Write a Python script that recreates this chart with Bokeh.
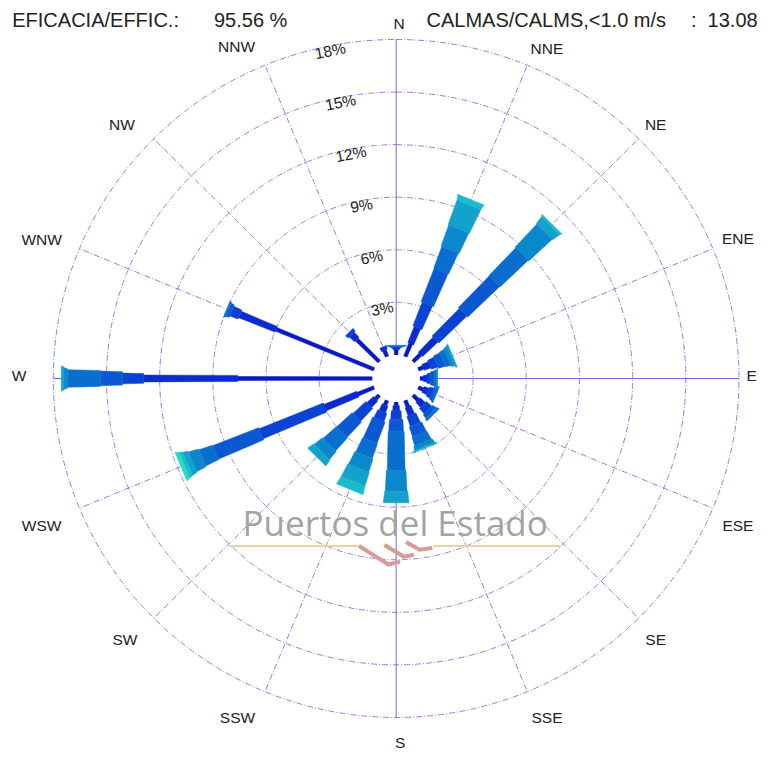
import numpy as np
from bokeh.plotting import figure
from bokeh.models import Range1d, ColumnDataSource
from bokeh.embed import file_html
from bokeh.resources import INLINE
from bokeh.core.properties import value

# ---------------- data ----------------
directions = ["N", "NNE", "NE", "ENE", "E", "ESE", "SE", "SSE",
              "S", "SSW", "SW", "WSW", "W", "WNW", "NW", "NNW"]
# frequency (%) of each speed class per direction (innermost class first)
cls1 = [0.30, 0.80, 0.60, 0.30, 0.20, 0.30, 0.40, 0.40, 0.20, 0.30, 0.30, 1.00, 7.60, 6.00, 1.80, 0.40]
cls2 = [0.10, 1.00, 1.20, 0.40, 0.20, 0.30, 0.40, 0.50, 0.30, 0.40, 0.50, 2.00, 5.30, 2.20, 0.40, 0.20]
cls3 = [0.05, 1.45, 2.20, 0.40, 0.20, 0.25, 0.40, 0.60, 0.50, 0.50, 1.00, 3.90, 1.20, 0.50, 0.20, 0.00]
cls4 = [0.03, 2.05, 2.50, 0.40, 0.20, 0.15, 0.25, 0.60, 0.70, 1.30, 1.20, 2.80, 1.25, 0.20, 0.00, 0.00]
cls5 = [0.03, 1.30, 2.20, 0.30, 0.15, 0.10, 0.15, 0.50, 2.20, 0.90, 1.00, 0.80, 1.85, 0.10, 0.00, 0.00]
cls6 = [0.04, 1.30, 1.80, 0.20, 0.05, 0.00, 0.00, 0.25, 1.20, 0.80, 0.60, 0.60, 0.20, 0.00, 0.00, 0.00]
cls7 = [0.00, 1.50, 0.50, 0.10, 0.00, 0.00, 0.00, 0.10, 0.65, 0.80, 0.40, 0.30, 0.15, 0.00, 0.00, 0.00]
cls8 = [0.00, 0.30, 0.10, 0.00, 0.00, 0.00, 0.00, 0.00, 0.00, 0.50, 0.00, 0.20, 0.00, 0.00, 0.00, 0.00]
cls9 = [0.00, 0.00, 0.00, 0.00, 0.00, 0.00, 0.00, 0.00, 0.00, 0.00, 0.00, 0.20, 0.00, 0.00, 0.00, 0.00]
ring_values = [3, 6, 9, 12, 15, 18]
ring_labels = ["3%", "6%", "9%", "12%", "15%", "18%"]
efficacy_label = "EFICACIA/EFFIC.:"
efficacy_text = "95.56 %"
calms_label = "CALMAS/CALMS,<1.0 m/s"
calms_text = "13.08"

# ---------------- styles / layout ----------------
class_colors = ["#0a18c6", "#0a2ccf", "#0a42d4", "#0a58d2", "#0a6ecf",
                "#0a88cc", "#12a2cc", "#18bccc", "#22dcc6"]
class_widths_px = [4, 7, 11, 15, 18, 22, 26, 29, 32]
grid_color = "#8484e8"
# direction label centres (design pixels)
label_xy_px = [(407, 23), (558, 49), (669, 127), (753, 243), (767, 383), (753, 536),
               (669, 653), (558, 732), (408, 758), (242, 732), (127, 653), (42, 536),
               (19, 383), (42, 244), (124, 127), (241, 47)]

W, H = 759, 753            # canvas
REF_W, REF_H = 775, 769    # design space (pixels)
CXr, CYr = 404, 386        # centre in design pixels
PXY, PXX = 17.9, 18.1      # design pixels per 1 %
R0 = 24 / PXY              # calm circle radius (% units)


def rp(xp, yp):
    """design-pixel position -> data coords"""
    return (xp - CXr) / PXX, (CYr - yp) / PXY


p = figure(width=W, height=H,
           x_range=Range1d(-CXr / PXX, (REF_W - CXr) / PXX),
           y_range=Range1d(-(REF_H - CYr) / PXY, CYr / PXY),
           output_backend="svg", toolbar_location=None, min_border=0)
p.xaxis.visible = False
p.yaxis.visible = False
p.grid.visible = False
p.outline_line_color = None
p.background_fill_color = "white"

theta = np.deg2rad(np.arange(16) * 22.5)
Rmax = R0 + max(ring_values)

# rings
phi = np.linspace(0, 2 * np.pi, 721)
p.multi_line([list((R0 + v) * np.sin(phi)) for v in ring_values],
             [list((R0 + v) * np.cos(phi)) for v in ring_values],
             line_color=grid_color, line_width=1, line_dash="6 2 1 2")

# radial lines
dash_idx = [i for i in range(16) if i % 4 != 0]
p.multi_line([[R0 * np.sin(theta[i]), Rmax * np.sin(theta[i])] for i in dash_idx],
             [[R0 * np.cos(theta[i]), Rmax * np.cos(theta[i])] for i in dash_idx],
             line_color=grid_color, line_width=1, line_dash="6 2 1 2")
p.multi_line([[-Rmax * np.sin(theta[i]), Rmax * np.sin(theta[i])] for i in (0, 4)],
             [[-Rmax * np.cos(theta[i]), Rmax * np.cos(theta[i])] for i in (0, 4)],
             line_color="#6c6ce2", line_width=1)

# logo watermark
lx, ly = rp(403, 533)
p.text(x=[lx], y=[ly], text=["Puertos del Estado"], text_font=value("Open Sans"),
       text_font_size="35px", text_color="#a3a3a3", text_align="center",
       text_baseline="alphabetic")
a0, yl = rp(233, 557)
a1, _ = rp(365, 557)
b0, _ = rp(442, 557)
b1, _ = rp(572, 557)
p.segment(x0=[a0, b0], y0=[yl, yl], x1=[a1, b1], y1=[yl, yl],
          line_color="#e8d39e", line_width=2)
strokes = [[(366, 557), (396, 576), (408, 573)],
           [(392, 556), (412, 568), (422, 566)],
           [(414, 553), (428, 561), (441, 559)]]
p.multi_line([[rp(*q)[0] for q in s] for s in strokes],
             [[rp(*q)[1] for q in s] for s in strokes],
             line_color="#d99a9a", line_width=4)

# bars
F = np.array([cls1, cls2, cls3, cls4, cls5, cls6, cls7, cls8, cls9])
cum = np.cumsum(F, axis=0)
start = np.vstack([np.zeros(16), cum[:-1]])
bx, by, bc = [], [], []
for k in range(F.shape[0]):
    h = class_widths_px[k] / 2 / PXY
    for d in range(16):
        if F[k, d] <= 0:
            continue
        r_a = R0 + start[k, d]
        r_b = R0 + cum[k, d]
        ux, uy = np.sin(theta[d]), np.cos(theta[d])
        nx, ny = np.cos(theta[d]), -np.sin(theta[d])
        hi, ho = 0.9 * h, h
        bx.append([r_a * ux + hi * nx, r_b * ux + ho * nx, r_b * ux - ho * nx, r_a * ux - hi * nx])
        by.append([r_a * uy + hi * ny, r_b * uy + ho * ny, r_b * uy - ho * ny, r_a * uy - hi * ny])
        bc.append(class_colors[k])
p.patches(xs="xs", ys="ys", fill_color="c", line_color="c", line_width=0.5,
          source=ColumnDataSource(dict(xs=bx, ys=by, c=bc)))

# calm circle
p.ellipse(x=[0], y=[0], width=[2 * R0], height=[2 * R0], fill_color="white", line_color=None)

# direction labels
p.text(x=[rp(*q)[0] for q in label_xy_px], y=[rp(*q)[1] for q in label_xy_px], text=directions,
       text_font=value("Liberation Sans"), text_font_size="15.5px", text_color="#222222",
       text_align="center", text_baseline="middle")

# ring labels
la = np.deg2rad(-11.25)
lr = [R0 + v - 5 / PXY for v in ring_values]
p.text(x=[r * np.sin(la) for r in lr], y=[r * np.cos(la) for r in lr], text=ring_labels,
       angle=-la, text_font=value("Liberation Sans"), text_font_size="15.5px",
       text_color="#222222", text_align="center", text_baseline="middle")

# header
hx = [12, 218, 435, 705, 722]
hy = rp(0, 20)[1]
p.text(x=[rp(v, 0)[0] for v in hx], y=[hy] * 5,
       text=[efficacy_label, efficacy_text, calms_label, ":", calms_text],
       text_font=value("Liberation Sans"), text_font_size="20px", text_color="#222222",
       text_align="left", text_baseline="alphabetic")

open("out.html", "w").write(file_html(p, INLINE))
